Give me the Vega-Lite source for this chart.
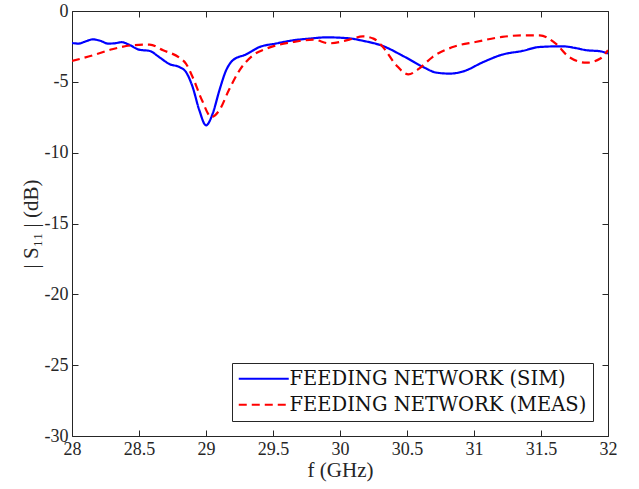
{
  "$schema": "https://vega.github.io/schema/vega-lite/v6.json",
  "width": 536,
  "height": 425,
  "autosize": {"type": "none"},
  "padding": {"left": 72, "top": 11, "right": 31, "bottom": 53},
  "config": {
    "view": {"stroke": "#262626", "strokeWidth": 1},
    "font": "Liberation Serif",
    "axis": {
      "domain": false,
      "grid": false,
      "tickColor": "#262626",
      "tickSize": -6,
      "tickWidth": 1,
      "labelFont": "Liberation Serif",
      "labelFontSize": 18,
      "labelColor": "#262626",
      "titleFont": "Liberation Serif",
      "titleFontSize": 21,
      "titleFontWeight": "normal",
      "titleColor": "#262626",
      "labelExpr": "toString(datum.value)"
    },
    "legend": {
      "orient": "bottom-right",
      "offset": 15,
      "fillColor": "white",
      "strokeColor": "#262626",
      "padding": 6,
      "labelFont": "DejaVu Serif",
      "labelFontSize": 19.5,
      "labelLimit": 0,
      "labelColor": "#111111",
      "symbolType": "M-5,0H5",
      "symbolSize": 100,
      "symbolStrokeWidth": 2.2,
      "symbolOffset": 16,
      "labelOffset": 16,
      "rowPadding": 5
    }
  },
  "data": {
    "values": [
      {"f": 28.0, "db": -2.26, "series": "FEEDING NETWORK (SIM)"},
      {"f": 28.05, "db": -2.3, "series": "FEEDING NETWORK (SIM)"},
      {"f": 28.1, "db": -2.15, "series": "FEEDING NETWORK (SIM)"},
      {"f": 28.155, "db": -2.0, "series": "FEEDING NETWORK (SIM)"},
      {"f": 28.21, "db": -2.1, "series": "FEEDING NETWORK (SIM)"},
      {"f": 28.27, "db": -2.3, "series": "FEEDING NETWORK (SIM)"},
      {"f": 28.32, "db": -2.28, "series": "FEEDING NETWORK (SIM)"},
      {"f": 28.37, "db": -2.2, "series": "FEEDING NETWORK (SIM)"},
      {"f": 28.43, "db": -2.4, "series": "FEEDING NETWORK (SIM)"},
      {"f": 28.5, "db": -2.73, "series": "FEEDING NETWORK (SIM)"},
      {"f": 28.58, "db": -2.82, "series": "FEEDING NETWORK (SIM)"},
      {"f": 28.65, "db": -3.25, "series": "FEEDING NETWORK (SIM)"},
      {"f": 28.73, "db": -3.76, "series": "FEEDING NETWORK (SIM)"},
      {"f": 28.8, "db": -3.95, "series": "FEEDING NETWORK (SIM)"},
      {"f": 28.85, "db": -4.3, "series": "FEEDING NETWORK (SIM)"},
      {"f": 28.9, "db": -5.36, "series": "FEEDING NETWORK (SIM)"},
      {"f": 28.95, "db": -7.0, "series": "FEEDING NETWORK (SIM)"},
      {"f": 29.0, "db": -8.07, "series": "FEEDING NETWORK (SIM)"},
      {"f": 29.05, "db": -7.24, "series": "FEEDING NETWORK (SIM)"},
      {"f": 29.1, "db": -5.6, "series": "FEEDING NETWORK (SIM)"},
      {"f": 29.15, "db": -4.19, "series": "FEEDING NETWORK (SIM)"},
      {"f": 29.2, "db": -3.48, "series": "FEEDING NETWORK (SIM)"},
      {"f": 29.3, "db": -3.06, "series": "FEEDING NETWORK (SIM)"},
      {"f": 29.4, "db": -2.54, "series": "FEEDING NETWORK (SIM)"},
      {"f": 29.52, "db": -2.3, "series": "FEEDING NETWORK (SIM)"},
      {"f": 29.65, "db": -2.07, "series": "FEEDING NETWORK (SIM)"},
      {"f": 29.77, "db": -1.95, "series": "FEEDING NETWORK (SIM)"},
      {"f": 29.9, "db": -1.86, "series": "FEEDING NETWORK (SIM)"},
      {"f": 30.07, "db": -1.93, "series": "FEEDING NETWORK (SIM)"},
      {"f": 30.17, "db": -2.1, "series": "FEEDING NETWORK (SIM)"},
      {"f": 30.32, "db": -2.47, "series": "FEEDING NETWORK (SIM)"},
      {"f": 30.47, "db": -3.17, "series": "FEEDING NETWORK (SIM)"},
      {"f": 30.62, "db": -3.95, "series": "FEEDING NETWORK (SIM)"},
      {"f": 30.72, "db": -4.35, "series": "FEEDING NETWORK (SIM)"},
      {"f": 30.82, "db": -4.42, "series": "FEEDING NETWORK (SIM)"},
      {"f": 30.92, "db": -4.26, "series": "FEEDING NETWORK (SIM)"},
      {"f": 31.07, "db": -3.6, "series": "FEEDING NETWORK (SIM)"},
      {"f": 31.21, "db": -3.08, "series": "FEEDING NETWORK (SIM)"},
      {"f": 31.36, "db": -2.82, "series": "FEEDING NETWORK (SIM)"},
      {"f": 31.49, "db": -2.54, "series": "FEEDING NETWORK (SIM)"},
      {"f": 31.66, "db": -2.49, "series": "FEEDING NETWORK (SIM)"},
      {"f": 31.75, "db": -2.6, "series": "FEEDING NETWORK (SIM)"},
      {"f": 31.84, "db": -2.77, "series": "FEEDING NETWORK (SIM)"},
      {"f": 31.94, "db": -2.84, "series": "FEEDING NETWORK (SIM)"},
      {"f": 32.0, "db": -3.0, "series": "FEEDING NETWORK (SIM)"},
      {"f": 28.0, "db": -3.53, "series": "FEEDING NETWORK (MEAS)"},
      {"f": 28.155, "db": -3.13, "series": "FEEDING NETWORK (MEAS)"},
      {"f": 28.3, "db": -2.7, "series": "FEEDING NETWORK (MEAS)"},
      {"f": 28.45, "db": -2.42, "series": "FEEDING NETWORK (MEAS)"},
      {"f": 28.58, "db": -2.37, "series": "FEEDING NETWORK (MEAS)"},
      {"f": 28.68, "db": -2.77, "series": "FEEDING NETWORK (MEAS)"},
      {"f": 28.8, "db": -3.29, "series": "FEEDING NETWORK (MEAS)"},
      {"f": 28.85, "db": -3.71, "series": "FEEDING NETWORK (MEAS)"},
      {"f": 28.9, "db": -4.66, "series": "FEEDING NETWORK (MEAS)"},
      {"f": 28.97, "db": -6.3, "series": "FEEDING NETWORK (MEAS)"},
      {"f": 29.04, "db": -7.48, "series": "FEEDING NETWORK (MEAS)"},
      {"f": 29.1, "db": -7.0, "series": "FEEDING NETWORK (MEAS)"},
      {"f": 29.17, "db": -5.6, "series": "FEEDING NETWORK (MEAS)"},
      {"f": 29.25, "db": -4.19, "series": "FEEDING NETWORK (MEAS)"},
      {"f": 29.35, "db": -3.13, "series": "FEEDING NETWORK (MEAS)"},
      {"f": 29.45, "db": -2.66, "series": "FEEDING NETWORK (MEAS)"},
      {"f": 29.65, "db": -2.19, "series": "FEEDING NETWORK (MEAS)"},
      {"f": 29.8, "db": -2.02, "series": "FEEDING NETWORK (MEAS)"},
      {"f": 29.92, "db": -2.28, "series": "FEEDING NETWORK (MEAS)"},
      {"f": 30.07, "db": -2.02, "series": "FEEDING NETWORK (MEAS)"},
      {"f": 30.17, "db": -1.79, "series": "FEEDING NETWORK (MEAS)"},
      {"f": 30.25, "db": -1.95, "series": "FEEDING NETWORK (MEAS)"},
      {"f": 30.32, "db": -2.54, "series": "FEEDING NETWORK (MEAS)"},
      {"f": 30.42, "db": -3.83, "series": "FEEDING NETWORK (MEAS)"},
      {"f": 30.51, "db": -4.47, "series": "FEEDING NETWORK (MEAS)"},
      {"f": 30.59, "db": -4.07, "series": "FEEDING NETWORK (MEAS)"},
      {"f": 30.69, "db": -3.25, "series": "FEEDING NETWORK (MEAS)"},
      {"f": 30.86, "db": -2.49, "series": "FEEDING NETWORK (MEAS)"},
      {"f": 31.01, "db": -2.19, "series": "FEEDING NETWORK (MEAS)"},
      {"f": 31.21, "db": -1.83, "series": "FEEDING NETWORK (MEAS)"},
      {"f": 31.36, "db": -1.72, "series": "FEEDING NETWORK (MEAS)"},
      {"f": 31.49, "db": -1.72, "series": "FEEDING NETWORK (MEAS)"},
      {"f": 31.61, "db": -2.3, "series": "FEEDING NETWORK (MEAS)"},
      {"f": 31.71, "db": -3.25, "series": "FEEDING NETWORK (MEAS)"},
      {"f": 31.84, "db": -3.65, "series": "FEEDING NETWORK (MEAS)"},
      {"f": 31.94, "db": -3.37, "series": "FEEDING NETWORK (MEAS)"},
      {"f": 32.0, "db": -2.77, "series": "FEEDING NETWORK (MEAS)"}
    ]
  },
  "layer": [
    {
      "mark": {"type": "line", "interpolate": "monotone", "strokeWidth": 2.2, "clip": true},
      "encoding": {
        "x": {
          "field": "f", "type": "quantitative",
          "scale": {"domain": [28, 32], "nice": false, "zero": false},
          "axis": {"values": [28, 28.5, 29, 29.5, 30, 30.5, 31, 31.5, 32], "title": "f  (GHz)", "labelPadding": 10, "titlePadding": 1, "labelFlush": false}
        },
        "y": {
          "field": "db", "type": "quantitative",
          "scale": {"domain": [-30, 0], "nice": false, "zero": false},
          "axis": {"values": [0, -5, -10, -15, -20, -25, -30], "title": "| S₁₁ |  (dB)", "labelPadding": 10, "titlePadding": 3}
        },
        "color": {
          "field": "series", "type": "nominal",
          "scale": {"domain": ["FEEDING NETWORK (SIM)", "FEEDING NETWORK (MEAS)"], "range": ["#0000ff", "#ff0000"]},
          "legend": {"title": null}
        },
        "strokeDash": {
          "field": "series", "type": "nominal",
          "scale": {"domain": ["FEEDING NETWORK (SIM)", "FEEDING NETWORK (MEAS)"], "range": [[1, 0], [8, 5]]},
          "legend": {"title": null}
        }
      }
    },
    {
      "mark": {"type": "line", "opacity": 0},
      "encoding": {
        "x": {
          "field": "f", "type": "quantitative",
          "scale": {"domain": [28, 32], "nice": false, "zero": false},
          "axis": {"orient": "top", "values": [28, 28.5, 29, 29.5, 30, 30.5, 31, 31.5, 32], "labels": false, "title": null}
        },
        "y": {
          "field": "db", "type": "quantitative",
          "scale": {"domain": [-30, 0], "nice": false, "zero": false},
          "axis": {"orient": "right", "values": [0, -5, -10, -15, -20, -25, -30], "labels": false, "title": null}
        },
        "detail": {"field": "series"}
      }
    }
  ],
  "resolve": {"axis": {"x": "independent", "y": "independent"}}
}
